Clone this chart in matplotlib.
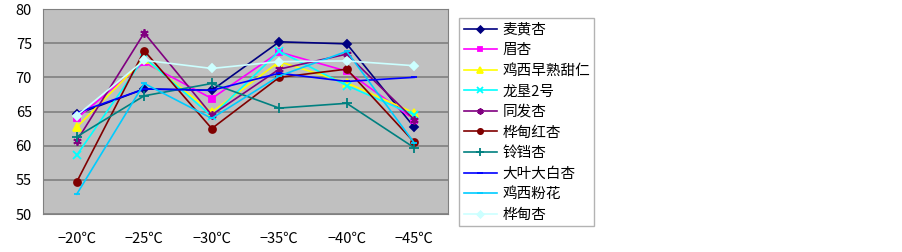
import matplotlib.pyplot as plt
import numpy as np

plt.rcParams['font.family'] = ['Noto Sans CJK SC', 'DejaVu Sans']

temps = ['−20℃', '−25℃', '−30℃', '−35℃', '−40℃', '−45℃']
names = ['麦黄杏', '眉杏', '鸡西早熟甜仁', '龙垦2号', '同发杏',
         '桦甸红杏', '铃铛杏', '大叶大白杏', '鸡西粉花', '桦甸杏']

maihuang = [64.6, 68.3, 68.1, 75.2, 74.9, 62.7]
meixing = [64.0, 72.2, 66.9, 73.7, 70.9, 63.8]
jixi_zaoshu = [62.7, 72.7, 64.9, 72.3, 69.2, 64.8]
longken2 = [58.6, 72.9, 64.3, 73.8, 68.8, 64.5]
tongfa = [60.7, 76.5, 64.5, 71.2, 73.4, 63.8]
huadian_hong = [54.7, 73.9, 62.5, 70.0, 71.2, 60.5]
lingdang = [61.3, 67.3, 69.1, 65.5, 66.2, 59.7]
daye_dabai = [64.8, 68.3, 68.1, 70.6, 69.4, 70.0]
jixi_fenhua = [52.9, 69.1, 64.0, 70.2, 73.8, 60.4]
huadian = [64.4, 72.5, 71.3, 72.3, 72.4, 71.7]

series = [maihuang, meixing, jixi_zaoshu, longken2, tongfa,
          huadian_hong, lingdang, daye_dabai, jixi_fenhua, huadian]
colors = ['#000080', '#FF00FF', '#FFFF00', '#00FFFF', '#800080',
          '#800000', '#008080', '#0000FF', '#00CCFF', '#CCFFFF']
markers = ['D', 's', '^', 'x', (6, 2, 0), 'o', '+', '_', '_', 'D']
msizes = [4.5, 4.5, 5.5, 6, 6, 5, 7, 5, 5, 4.5]

fig = plt.figure(figsize=(9.03, 2.52), dpi=100)
ax = fig.add_axes([43 / 903, 1 - 214 / 252, 405 / 903, 205 / 252])
ax.set_facecolor('#C0C0C0')

x = np.arange(len(temps))
for vals, name, c, m, ms in zip(series, names, colors, markers, msizes):
    ax.plot(x, vals, color=c, marker=m, markersize=ms, linewidth=1.2,
            markeredgewidth=1.3, label=name)

ax.set_xlim(-0.5, len(temps) - 0.5)
ax.set_ylim(50, 80)
ax.set_yticks(range(50, 81, 5))
ax.set_xticks(x)
ax.set_xticklabels(temps)
ax.yaxis.grid(True, color='#808080', linewidth=1.2)
ax.set_axisbelow(True)
ax.tick_params(length=0, labelsize=10.5)
ax.tick_params(axis='x', pad=13)
ax.tick_params(axis='y', pad=8)
for s in ax.spines.values():
    s.set_color('#808080')

fig.legend(loc='upper left', bbox_to_anchor=(452 / 903, 1 - 11 / 252),
           frameon=True, fancybox=False, edgecolor='#A0A0A0',
           fontsize=10.5, handlelength=2.3, labelspacing=0.45,
           borderpad=0.3, handletextpad=0.35, markerscale=0.75)

fig.savefig('out.png', dpi=100)
